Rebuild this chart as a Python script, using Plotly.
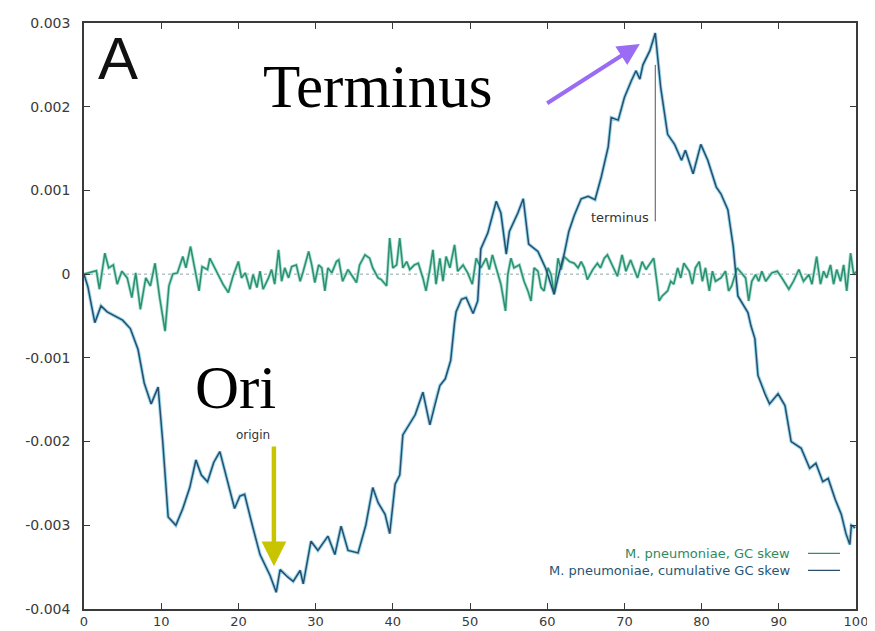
import plotly.graph_objects as go

# ---------------- data ----------------
# cumulative GC skew: genome position (%) and value
cum_x = [0.0, 0.5, 1.4, 2.2, 3.0, 4.0, 5.0, 6.0, 7.0, 7.8, 8.7, 9.6, 10.2, 10.9, 11.9, 12.8,
         13.7, 14.5, 15.2, 16.0, 16.8, 17.6, 18.5, 19.5, 20.2, 20.8, 21.8, 22.8, 24.1, 24.9,
         25.4, 26.4, 27.1, 28.0, 28.4, 29.4, 30.3, 31.6, 32.5, 33.3, 34.2, 35.5, 36.5, 37.4,
         38.1, 39.0, 39.6, 40.3, 40.9, 41.3, 42.9, 43.9, 44.8, 45.5, 46.1, 46.8, 47.5, 48.0,
         48.2, 48.9, 49.5, 50.4, 51.0, 51.4, 52.3, 53.4, 54.0, 54.7, 55.1, 56.2, 56.9, 57.6,
         58.8, 59.8, 60.9, 61.5, 62.2, 62.8, 63.5, 64.4, 65.3, 66.2, 67.0, 67.9, 68.3, 69.2,
         70.0, 70.9, 71.5, 72.0, 72.4, 73.3, 74.0, 74.7, 75.6, 76.5, 77.4, 77.9, 78.9, 79.9,
         80.8, 81.9, 82.5, 83.4, 84.1, 84.7, 86.0, 86.4, 86.9, 87.3, 88.2, 88.8, 89.9, 90.8,
         91.6, 92.9, 94.0, 94.8, 95.7, 96.4, 97.3, 98.1, 98.7, 99.2, 99.4, 99.9]
cum_y = [0.0, -0.00015, -0.00058, -0.00038, -0.00045, -0.0005, -0.00055, -0.00065, -0.0009,
         -0.0013, -0.00155, -0.00135, -0.002, -0.0029, -0.003, -0.0028, -0.00255, -0.00222,
         -0.0024, -0.00248, -0.00225, -0.00212, -0.00245, -0.0028, -0.00265, -0.00263,
         -0.003, -0.00335, -0.0036, -0.0038, -0.00353, -0.00362, -0.00367, -0.00354,
         -0.0037, -0.00319, -0.0033, -0.00313, -0.00335, -0.00301, -0.0033, -0.00333,
         -0.003, -0.00255, -0.00273, -0.00287, -0.0031, -0.00251, -0.0024, -0.00192,
         -0.00168, -0.00141, -0.0018, -0.00153, -0.00133, -0.00125, -0.00103, -0.00058,
         -0.00045, -0.0003, -0.00028, -0.00047, -0.00032, 0.0003, 0.00049, 0.00087, 0.00073,
         0.00024, 0.00051, 0.00073, 0.0009, 0.00036, 0.00027, 0.00007, -0.00024, 0.0, 0.00024,
         0.00051, 0.0007, 0.0009, 0.00093, 0.00089, 0.00116, 0.00152, 0.00187, 0.00184,
         0.00211, 0.00231, 0.00243, 0.00233, 0.0025, 0.00267, 0.00288, 0.00223, 0.00167,
         0.00155, 0.00136, 0.00148, 0.0012, 0.00155, 0.00136, 0.00104, 0.00096, 0.00077,
         0.00033, -0.00026, -0.00046, -0.00062, -0.00077, -0.00121, -0.00143, -0.00155,
         -0.00143, -0.00157, -0.002, -0.00208, -0.00232, -0.00226, -0.00248, -0.00244,
         -0.00269, -0.00287, -0.0031, -0.00323, -0.003, -0.00303]

# GC skew (windowed): genome position (%) and value
skew_x = [0.0, 1.6, 2.0, 2.7, 3.2, 3.8, 4.3, 4.9, 5.6, 6.2, 6.7, 7.3, 8.0, 8.6, 9.2, 9.8,
          10.5, 11.0, 11.5, 12.1, 12.8, 13.2, 13.8, 14.3, 14.9, 15.3, 16.0, 16.3, 17.0, 18.0,
          18.7, 19.3, 20.0, 20.4, 20.9, 21.5, 21.9, 22.4, 22.8, 23.2, 23.9, 24.3, 24.7, 25.2,
          25.6, 26.0, 26.5, 26.9, 27.5, 28.0, 28.4, 29.1, 29.5, 29.9, 30.4, 30.8, 31.2, 31.6,
          32.1, 32.7, 33.0, 33.5, 34.2, 34.8, 35.3, 35.7, 36.4, 37.0, 37.4, 38.1, 38.5, 39.2,
          39.6, 40.0, 40.5, 40.9, 41.3, 41.8, 42.2, 42.8, 43.3, 43.9, 44.3, 44.8, 45.2, 45.6,
          46.1, 46.5, 46.9, 47.4, 48.0, 48.4, 49.1, 49.7, 50.3, 50.8, 51.4, 52.1, 52.5, 52.9,
          53.6, 54.0, 54.6, 54.9, 55.3, 55.7, 56.4, 57.0, 57.5, 57.9, 58.3, 58.8, 59.2, 59.6,
          60.1, 60.5, 60.9, 61.4, 61.8, 62.2, 62.9, 63.5, 64.0, 64.4, 64.8, 65.2, 65.9, 66.5,
          66.9, 67.4, 67.8, 68.2, 68.7, 69.1, 69.7, 70.2, 70.8, 71.2, 71.7, 72.3, 72.8, 73.2,
          73.8, 74.3, 74.5, 74.9, 75.6, 76.0, 76.4, 76.9, 77.3, 77.7, 78.4, 78.8, 79.2, 79.7,
          80.1, 80.5, 81.0, 81.4, 81.8, 82.5, 83.1, 83.5, 83.9, 84.6, 85.2, 85.7, 86.1, 86.5,
          87.0, 87.4, 87.8, 88.3, 89.1, 89.8, 90.4, 91.3, 91.9, 92.6, 93.2, 93.9, 94.3, 94.9,
          95.4, 95.8, 96.2, 96.7, 97.1, 97.5, 98.0, 98.4, 98.8, 99.3, 99.7, 100.0]
skew_y = [0.0, 0.00004, -0.00018, 0.00025, 0.000075, 0.00011, -0.00012, 0.000035, -0.000045,
          -0.00028, 0.000015, -0.00042, -0.000045, -0.00014, 0.00013, -0.00028, -0.00068,
          -0.00014, 0.0, 0.000015, 0.00021, 0.000075, 0.00033, 0.000075, -0.0002, 0.00009,
          0.000055, 0.00019, 0.000055, -0.00012, -0.00022, -0.000025, 0.00015, -0.000045,
          0.000015, -0.00018, -0.000005, -0.00016, 0.000035, -0.00018, -0.000045, 0.000055,
          -0.00012, 0.00029, -0.000085, 0.000075, -0.000045, 0.00009, 0.00011, -0.000085,
          0.000035, 0.00027, 0.00011, -0.0001, 0.00011, 0.000075, -0.0002, 0.000075, 0.000015,
          0.00015, 0.00017, -0.000085, 0.000055, -0.000025, -0.0001, 0.00011, 0.00023, 0.00019,
          0.000075, -0.000045, -0.000065, -0.00014, 0.00043, 0.000075, 0.00011, 0.00043,
          0.000075, 0.00015, 0.000055, 0.00011, 0.00013, -0.000045, -0.0002, 0.000055, 0.00029,
          -0.00012, 0.00019, -0.000085, 0.00021, 0.000075, 0.00035, 0.000035, 0.00011,
          0.000015, -0.00012, 0.00019, 0.000075, 0.00019, 0.000055, 0.00023, -0.000005,
          -0.00012, -0.00044, -0.000005, 0.00019, 0.000075, 0.00011, -0.000085, -0.0002,
          -0.00032, 0.000075, 0.000035, -0.00016, -0.0002, 0.000075, -0.000005, -0.00024,
          0.00019, 0.000055, 0.00021, 0.00015, 0.00013, 0.000075, 0.00015, 0.000075, -0.000065,
          0.000055, 0.00013, 0.000075, 0.00019, 0.00023, 0.00015, 0.000035, -0.000025, 0.00023,
          0.000035, 0.00017, 0.000075, -0.000045, 0.00015, 0.000055, 0.00011, 0.00019, -0.00016,
          -0.00032, -0.00026, -0.0002, -0.000085, -0.00012, 0.000075, -0.000045, 0.00013,
          0.000035, -0.00012, 0.000075, 0.00015, -0.000085, 0.000075, -0.0002, 0.000035,
          -0.000085, -0.000045, 0.000035, -0.0002, -0.00014, 0.000075, 0.000015, -0.000045,
          -0.00032, -0.000085, -0.000005, -0.000085, 0.000035, -0.000085, 0.000015, 0.000035,
          -0.000045, -0.00018, -0.000085, 0.000055, -0.000085, -0.000005, -0.00012, 0.00021,
          -0.00012, 0.000035, -0.000045, 0.00011, -0.00012, 0.000055, -0.000085, 0.00011,
          -0.0002, 0.00025, -0.000005, 0.00003]

x_ticks = [0, 10, 20, 30, 40, 50, 60, 70, 80, 90, 100]
y_ticks = [-0.004, -0.003, -0.002, -0.001, 0, 0.001, 0.002, 0.003]
y_tick_labels = ["-0.004", "-0.003", "-0.002", "-0.001", "0", "0.001", "0.002", "0.003"]
legend_labels = ["M. pneumoniae, GC skew", "M. pneumoniae, cumulative GC skew"]

# ---------------- styling ----------------
GREEN = "#2a9070"
GREEN_GLOW = "#a9ded0"
BLUE = "#2b4c6c"
BLUE_GLOW = "#98d8ea"
AXIS = "#3a3a3a"

fig = go.Figure()
# glow under lines
fig.add_trace(go.Scatter(x=skew_x, y=skew_y, mode="lines",
                         line=dict(color=GREEN_GLOW, width=3.2), showlegend=False, hoverinfo="skip"))
fig.add_trace(go.Scatter(x=cum_x, y=cum_y, mode="lines",
                         line=dict(color=BLUE_GLOW, width=3.5), showlegend=False, hoverinfo="skip"))
fig.add_trace(go.Scatter(x=skew_x, y=skew_y, mode="lines", name=legend_labels[0],
                         line=dict(color=GREEN, width=1.5), showlegend=False))
fig.add_trace(go.Scatter(x=cum_x, y=cum_y, mode="lines", name=legend_labels[1],
                         line=dict(color=BLUE, width=1.5), showlegend=False))

# zero reference line
fig.add_shape(type="line", xref="x", yref="y", x0=0, x1=100, y0=0, y1=0,
              line=dict(color="#8fa8a8", width=1, dash="dot"), layer="below")
# terminus marker line
fig.add_shape(type="line", xref="x", yref="y", x0=74.0, x1=74.0, y0=0.0025, y1=0.00063,
              line=dict(color="#555555", width=1))

annotations = [
    dict(text="A", xref="x", yref="y", x=4.4, y=0.00258, showarrow=False,
         font=dict(family="Liberation Sans", size=60, color="#111111"), xanchor="center", yanchor="middle"),
    dict(text="Terminus", xref="x", yref="y", x=22.9, y=0.00224, showarrow=False,
         font=dict(family="Liberation Serif", size=61, color="#000000"), xanchor="left", yanchor="middle"),
    dict(text="Ori", xref="x", yref="y", x=14.1, y=-0.00136, showarrow=False,
         font=dict(family="Liberation Serif", size=61, color="#000000"), xanchor="left", yanchor="middle"),
    dict(text="terminus", xref="x", yref="y", x=73.4, y=0.00068, showarrow=False,
         font=dict(family="DejaVu Sans", size=13, color="#333333"), xanchor="right", yanchor="middle"),
    dict(text="origin", xref="x", yref="y", x=21.9, y=-0.00192, showarrow=False,
         font=dict(family="DejaVu Sans", size=12, color="#333333"), xanchor="center", yanchor="middle"),
    # purple arrow to terminus
    dict(text="", xref="x", yref="y", axref="x", ayref="y", x=72.0, y=0.00275, ax=59.8, ay=0.00203,
         showarrow=True, arrowhead=2, arrowsize=1.1, arrowwidth=4, arrowcolor="#9a6cf4"),
    # yellow arrow to origin
    dict(text="", xref="x", yref="y", axref="x", ayref="y", x=24.6, y=-0.00349, ax=24.6, ay=-0.00204,
         showarrow=True, arrowhead=2, arrowsize=1.1, arrowwidth=4.5, arrowcolor="#c8c400"),
    # legend texts
    dict(text=legend_labels[0], xref="paper", yref="paper", x=0.9165, y=0.095, showarrow=False,
         font=dict(family="DejaVu Sans", size=13, color="#2e8a62"), xanchor="right", yanchor="middle"),
    dict(text=legend_labels[1], xref="paper", yref="paper", x=0.9165, y=0.066, showarrow=False,
         font=dict(family="DejaVu Sans", size=13, color="#2a5572"), xanchor="right", yanchor="middle"),
]
fig.add_shape(type="line", xref="paper", yref="paper", x0=0.9378, x1=0.9793, y0=0.095, y1=0.095,
              line=dict(color=GREEN, width=1.3))
fig.add_shape(type="line", xref="paper", yref="paper", x0=0.9378, x1=0.9793, y0=0.066, y1=0.066,
              line=dict(color=BLUE, width=1.3))

fig.update_layout(
    width=875, height=631,
    margin=dict(l=76, r=27, t=15, b=30),
    paper_bgcolor="white", plot_bgcolor="white",
    showlegend=False, hovermode=False,
    annotations=annotations,
    xaxis=dict(range=[0, 100], tickvals=x_ticks, ticks="inside", ticklen=6, tickcolor=AXIS,
               showline=True, linecolor=AXIS, linewidth=1.5, mirror="ticks", showgrid=False,
               zeroline=False, tickfont=dict(family="DejaVu Sans", size=13, color="#3a3a3a"),
               ticklabelstandoff=0, automargin=False),
    yaxis=dict(range=[-0.004, 0.003], tickvals=y_ticks, ticktext=y_tick_labels, ticks="inside",
               ticklen=6, tickcolor=AXIS, showline=True, linecolor=AXIS, linewidth=1.5,
               mirror="ticks", showgrid=False, zeroline=False,
               tickfont=dict(family="DejaVu Sans", size=14, color="#3a3a3a"),
               ticklabelstandoff=9, automargin=False),
)

fig.write_html("out.html")
